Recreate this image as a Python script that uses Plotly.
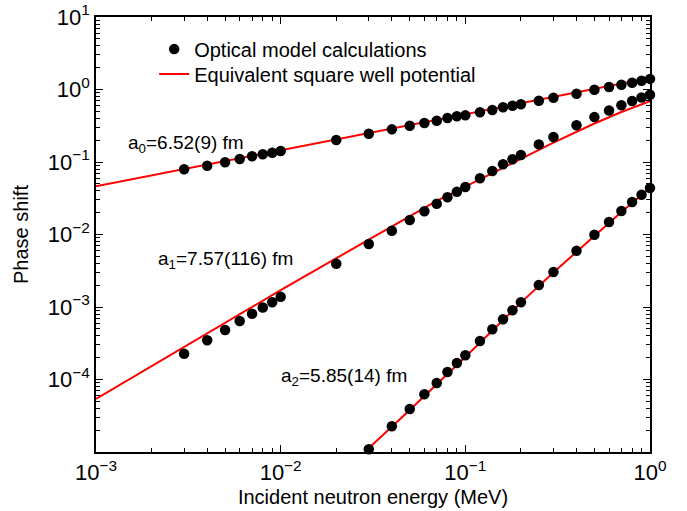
import plotly.graph_objects as go

# ---------------- data ----------------
energy = [0.003, 0.004, 0.005, 0.006, 0.007, 0.008, 0.009, 0.01,
          0.02, 0.03, 0.04, 0.05, 0.06, 0.07, 0.08, 0.09, 0.1,
          0.12, 0.14, 0.16, 0.18, 0.2, 0.25, 0.3, 0.4, 0.5, 0.6, 0.7, 0.8, 0.9, 1.0]

delta0 = [0.0793, 0.0889, 0.0991, 0.110, 0.120, 0.128, 0.134, 0.142,
          0.201, 0.245, 0.282, 0.317, 0.345, 0.371, 0.405, 0.427, 0.440,
          0.485, 0.521, 0.568, 0.598, 0.625, 0.701, 0.771, 0.875, 0.994,
          1.08, 1.16, 1.24, 1.32, 1.40]

delta1 = [2.27e-4, 3.48e-4, 4.82e-4, 6.41e-4, 8.05e-4, 9.84e-4, 1.16e-3, 1.38e-3,
          3.95e-3, 7.38e-3, 0.01127, 0.01584, 0.0209, 0.0266, 0.0326, 0.0389, 0.0452,
          0.0596, 0.0751, 0.0930, 0.109, 0.125, 0.175, 0.221, 0.321, 0.416,
          0.514, 0.605, 0.695, 0.777, 0.848]

energy2 = [0.03, 0.04, 0.05, 0.06, 0.07, 0.08, 0.09, 0.1,
           0.12, 0.14, 0.16, 0.18, 0.2, 0.25, 0.3, 0.4, 0.5, 0.6, 0.7, 0.8, 0.9, 1.0]
delta2 = [1.09e-5, 2.26e-5, 3.92e-5, 6.25e-5, 8.95e-5, 1.27e-4, 1.69e-4, 2.16e-4,
          3.40e-4, 4.92e-4, 6.76e-4, 9.0e-4, 1.16e-3, 2.01e-3, 3.04e-3, 5.95e-3,
          9.93e-3, 0.01486, 0.0211, 0.0281, 0.0354, 0.0438]

# equivalent square-well curves
well0_E = [0.001, 0.01, 0.1, 1.0]
well0 = [0.0461, 0.146, 0.458, 1.44]
well1_E = [0.001, 0.01, 0.03, 0.07, 0.1, 0.2, 0.3, 0.5, 0.7, 1.0]
well1 = [5.4e-5, 1.71e-3, 8.5e-3, 0.029, 0.0458, 0.112, 0.185, 0.34, 0.49, 0.69]
well2_E = [0.0285, 0.05, 0.1, 0.2, 0.3, 0.5, 0.7, 1.0]
well2 = [1.0e-5, 3.8e-5, 2.04e-4, 1.15e-3, 3.0e-3, 9.6e-3, 0.0205, 0.044]

labels = ["a<sub>0</sub>=6.52(9) fm", "a<sub>1</sub>=7.57(116) fm", "a<sub>2</sub>=5.85(14) fm"]

x_tickvals = [1e-3, 1e-2, 1e-1, 1e0]
x_ticktext = ["10<sup>−3</sup>", "10<sup>−2</sup>", "10<sup>−1</sup>", "10<sup>0</sup>"]
y_tickvals = [1e-4, 1e-3, 1e-2, 1e-1, 1e0, 1e1]
y_ticktext = ["10<sup>−4</sup>", "10<sup>−3</sup>", "10<sup>−2</sup>",
              "10<sup>−1</sup>", "10<sup>0</sup>", "10<sup>1</sup>"]

FONT = "Liberation Sans, Arial, Helvetica, sans-serif"
RED = "#ff0000"

fig = go.Figure()

for i, (xe, ye) in enumerate([(well0_E, well0), (well1_E, well1), (well2_E, well2)]):
    fig.add_trace(go.Scatter(
        x=xe, y=ye, mode="lines", line=dict(color=RED, width=2),
        name="Equivalent square well potential", showlegend=(i == 0),
        legend="legend2"))

for i, (xe, ye) in enumerate([(energy, delta0), (energy, delta1), (energy2, delta2)]):
    fig.add_trace(go.Scatter(
        x=xe, y=ye, mode="markers", marker=dict(color="black", size=10.5),
        name="Optical model calculations", showlegend=(i == 0),
        cliponaxis=False, legend="legend"))

minor_vals = []
for d in range(-6, 2):
    for k in range(2, 10):
        minor_vals.append(k * 10.0 ** d)

axis_common = dict(
    type="log", showline=True, linecolor="black", linewidth=1.5, mirror="allticks",
    ticks="inside", ticklen=7, tickwidth=1, tickcolor="black",
    showgrid=False, zeroline=False, automargin=False, ticklabeloverflow="allow",
    tickfont=dict(family=FONT, size=22, color="black"),
    minor=dict(ticks="inside", ticklen=4, tickwidth=1, tickcolor="black",
               tickmode="array", tickvals=minor_vals, showgrid=False),
)

fig.update_xaxes(range=[-3, 0], tickmode="array", tickvals=x_tickvals, ticktext=x_ticktext,
                 title=dict(text="Incident neutron energy (MeV)",
                            font=dict(family=FONT, size=20, color="black"), standoff=6),
                 **axis_common)
fig.update_yaxes(range=[-5, 1], tickmode="array", tickvals=y_tickvals, ticktext=y_ticktext,
                 title=dict(text="Phase shift",
                            font=dict(family=FONT, size=20, color="black"), standoff=14),
                 **axis_common)

ann_pos = [(0.0536, 0.708), (0.108, 0.441), (0.331, 0.173)]
for txt, (ax, ay) in zip(labels, ann_pos):
    fig.add_annotation(x=ax, y=ay, xref="paper", yref="paper", text=txt, showarrow=False,
                       xanchor="left", yanchor="middle",
                       font=dict(family=FONT, size=19, color="black"))

legend_style = dict(xanchor="left", yanchor="top", bgcolor="rgba(0,0,0,0)",
                    font=dict(family=FONT, size=20, color="black"), itemwidth=30)

fig.update_layout(
    width=687, height=511,
    margin=dict(l=96, r=37, t=17, b=59),
    paper_bgcolor="white", plot_bgcolor="white",
    font=dict(family=FONT, color="black"),
    legend=dict(x=0.105, y=0.971, **legend_style),
    legend2=dict(x=0.105, y=0.9136, **legend_style),
)

fig.write_html("out.html",
               config={"displayModeBar": False},
               post_script="document.body.style.margin='0';document.body.style.overflow='hidden';")
